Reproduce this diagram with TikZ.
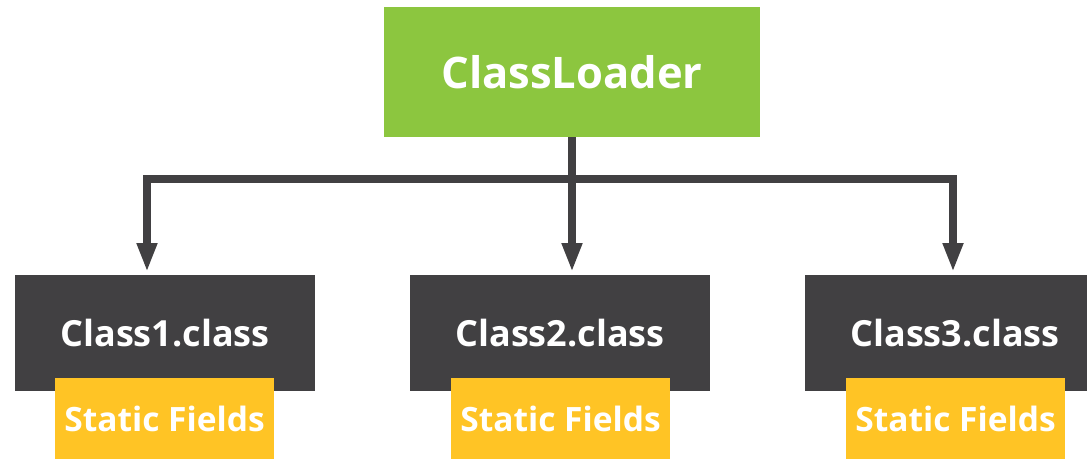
\documentclass[tikz,border=0pt]{standalone}
\usepackage{fontspec}
\setmainfont{Open Sans}[UprightFont={* Bold}]
\usetikzlibrary{arrows.meta}
\definecolor{loadergreen}{HTML}{8CC63F}
\definecolor{classgray}{HTML}{414042}
\definecolor{fieldyellow}{HTML}{FFC425}
\begin{document}
\begin{tikzpicture}[x=1pt,y=-1pt,
  box/.style={inner sep=0pt, text=white, font=\bfseries},
  loader/.style={box, fill=loadergreen, minimum width=376pt, minimum height=130pt, font=\fontsize{43.5}{50}\selectfont},
  classbox/.style={box, fill=classgray, minimum width=300pt, minimum height=116pt, font=\fontsize{36}{42}\selectfont},
  fields/.style={box, fill=fieldyellow, minimum width=219pt, minimum height=81pt, font=\fontsize{33.5}{38}\selectfont},
  wire/.style={draw=classgray, line width=8pt, line join=miter,
    -{Triangle[width=19pt,length=29pt]}}]
\path[use as bounding box, clip] (0,0) rectangle (1087,460);

\node[loader] (cl) at (572,72) {ClassLoader};

\node[classbox] (c1) at (165,333) {Class1.class};
\node[classbox] (c2) at (560,333) {Class2.class};
\node[classbox] (c3) at (955,333) {Class3.class};

\node[fields] (f1) at (164.5,418.5) {Static Fields};
\node[fields] (f2) at (560.5,418.5) {Static Fields};
\node[fields] (f3) at (955.5,418.5) {Static Fields};

% arrow ends, slightly above each class box
\coordinate (bar) at (572,179);
\coordinate (t1) at (147,272);
\coordinate (t2) at (572,272);
\coordinate (t3) at (953,272);

\draw[wire] (cl.south) -- (t2);
\draw[wire] (bar) -| (t1);
\draw[wire] (bar) -| (t3);
\end{tikzpicture}
\end{document}
